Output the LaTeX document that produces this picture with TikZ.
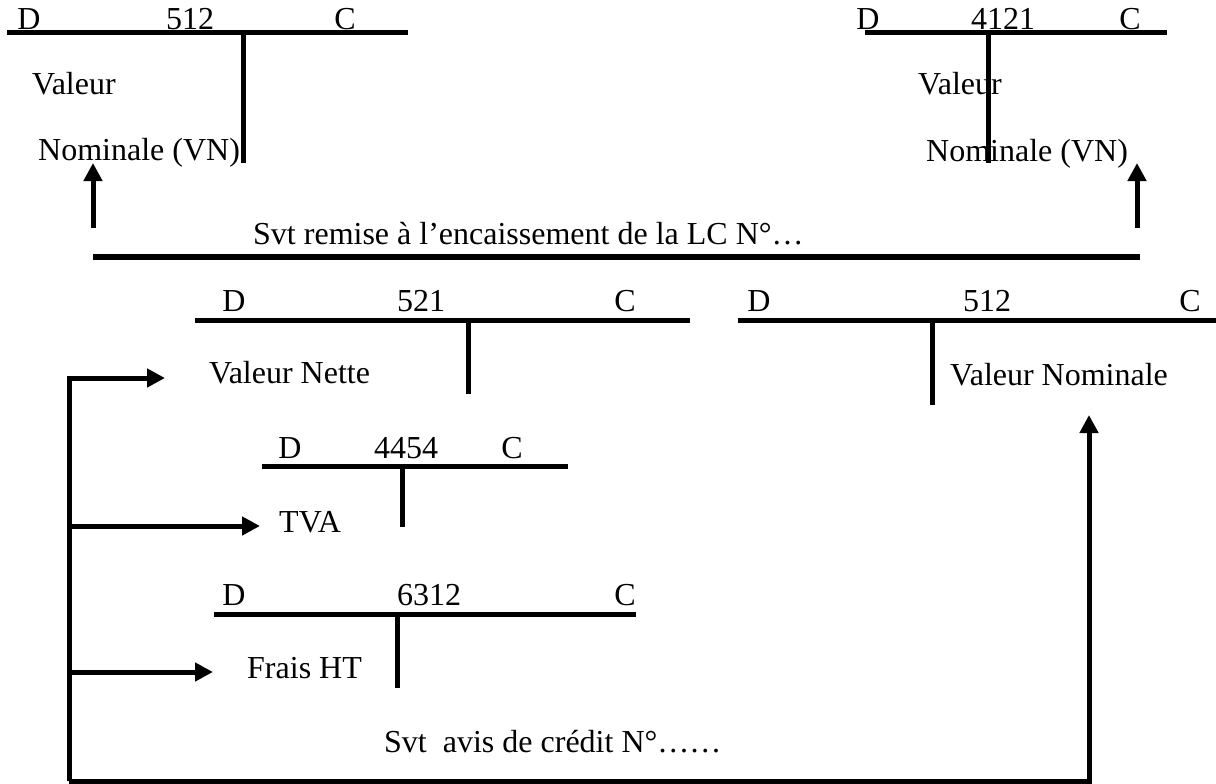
\documentclass[tikz,border=0pt]{standalone}
\usepackage{fontspec}
\setmainfont{Liberation Serif}
\usetikzlibrary{arrows.meta}
\begin{document}
\begin{tikzpicture}[x=1pt,y=-1pt,
  tline/.style={line width=5pt},
  lbl/.style={anchor=base west, inner sep=0pt, font=\fontsize{32}{38}\selectfont},
  clbl/.style={anchor=base, inner sep=0pt, font=\fontsize{32}{38}\selectfont},
  arr/.style={line width=5pt, line join=miter, -{Triangle[length=18pt,width=18pt]}}]
\useasboundingbox (0,0) rectangle (1216,784);

% ---- T account 512 (top left)
\coordinate (a1l) at (7,33); \coordinate (a1r) at (408,33);
\coordinate (a1t) at (243,33); \coordinate (a1b) at (243,163);
\draw[tline] (a1l) -- (a1r); \draw[tline] (a1t) -- (a1b);
\node[clbl] (a1d) at (29,30) {D};
\node[clbl] (a1n) at (190,30) {512};
\node[clbl] (a1c) at (345,30) {C};
\node[lbl] (a1v1) at (32,95) {Valeur};
\node[lbl] (a1v2) at (38,160) {Nominale (VN)};

% ---- T account 4121 (top right)
\coordinate (a2l) at (865,33); \coordinate (a2r) at (1167,33);
\coordinate (a2t) at (988,33); \coordinate (a2b) at (988,163);
\draw[tline] (a2l) -- (a2r); \draw[tline] (a2t) -- (a2b);
\node[clbl] (a2d) at (868,30) {D};
\node[clbl] (a2n) at (1003,30) {4121};
\node[clbl] (a2c) at (1130,30) {C};
\node[lbl] (a2v1) at (918,95) {Valeur};
\node[lbl] (a2v2) at (926,161) {Nominale (VN)};

% ---- middle: remise
\coordinate (ml) at (93,257); \coordinate (mr) at (1140,257);
\draw[line width=6pt] (ml) -- (mr);
\coordinate (up1s) at (93,228); \coordinate (up1e) at (93,163);
\coordinate (up2s) at (1137,228); \coordinate (up2e) at (1137,163);
\draw[arr] (up1s) -- (up1e);
\draw[arr] (up2s) -- (up2e);
\node[lbl] (rem) at (253,244) {Svt remise à l’encaissement de la LC N°…};

% ---- T account 521
\coordinate (b1l) at (195,320); \coordinate (b1r) at (690,320);
\coordinate (b1t) at (468,320); \coordinate (b1b) at (468,394);
\draw[tline] (b1l) -- (b1r); \draw[tline] (b1t) -- (b1b);
\node[clbl] (b1d) at (234,311) {D};
\node[clbl] (b1n) at (421,311) {521};
\node[clbl] (b1c) at (625,311) {C};
\node[lbl] (vn) at (209,383) {Valeur Nette};

% ---- T account 512 (bottom right)
\coordinate (b2l) at (738,320); \coordinate (b2r) at (1216,320);
\coordinate (b2t) at (932,320); \coordinate (b2b) at (932,405);
\draw[tline] (b2l) -- (b2r); \draw[tline] (b2t) -- (b2b);
\node[clbl] (b2d) at (759,311) {D};
\node[clbl] (b2n) at (987,311) {512};
\node[clbl] (b2c) at (1190,311) {C};
\node[lbl] (vnom) at (950,385) {Valeur Nominale};

% ---- T account 4454
\coordinate (b3l) at (262,466); \coordinate (b3r) at (568,466);
\coordinate (b3t) at (402,466); \coordinate (b3b) at (402,527);
\draw[tline] (b3l) -- (b3r); \draw[tline] (b3t) -- (b3b);
\node[clbl] (b3d) at (290,458) {D};
\node[clbl] (b3n) at (406,458) {4454};
\node[clbl] (b3c) at (512,458) {C};
\node[lbl] (tva) at (279,532) {TVA};

% ---- T account 6312
\coordinate (b4l) at (214,614); \coordinate (b4r) at (636,614);
\coordinate (b4t) at (397,614); \coordinate (b4b) at (397,688);
\draw[tline] (b4l) -- (b4r); \draw[tline] (b4t) -- (b4b);
\node[clbl] (b4d) at (234,605) {D};
\node[clbl] (b4n) at (429,605) {6312};
\node[clbl] (b4c) at (625,605) {C};
\node[lbl] (frais) at (247,678) {Frais HT};

\node[lbl] (avis) at (384,752) {Svt\ \ avis de crédit N°……};

% ---- bracket connectors
\coordinate (bl) at (69,781);
\coordinate (br) at (1089,781);
\coordinate (t1) at (69,378); \coordinate (t1e) at (165,378);
\coordinate (t2) at (69,526); \coordinate (t2e) at (260,526);
\coordinate (t3) at (69,672); \coordinate (t3e) at (213,672);
\coordinate (upr) at (1089,415);
\draw[arr] (bl) -- (t1) -- (t1e);
\draw[arr] (t2) -- (t2e);
\draw[arr] (t3) -- (t3e);
\draw[arr] (bl) -- (br) -- (upr);
\end{tikzpicture}
\end{document}
